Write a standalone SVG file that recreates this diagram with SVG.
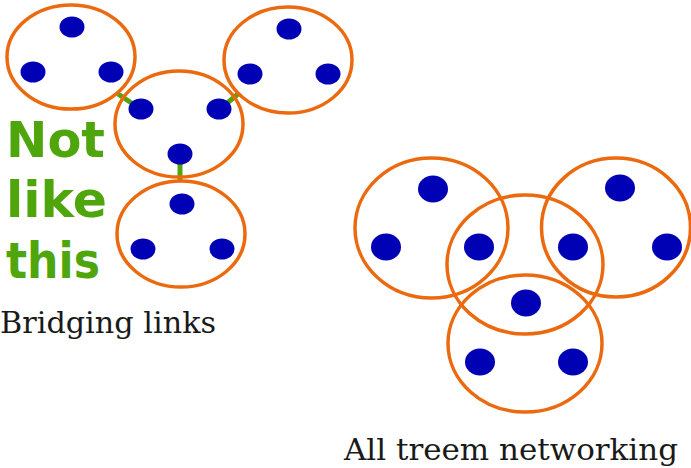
<svg xmlns="http://www.w3.org/2000/svg" width="691" height="468" viewBox="0 0 691 468">
<style>
.grp{fill:none;stroke:#ec6a0f;stroke-width:3.5}
.dot{fill:#0000b4}
.link{stroke:#4fa60c;stroke-width:5;stroke-linecap:butt}
.green{font-family:"DejaVu Sans",sans-serif;font-weight:bold;font-size:49px;fill:#4fa60c}
.lbl{font-family:"DejaVu Serif",serif;font-size:29px;fill:#1a1a1a}
</style>
<rect width="691" height="468" fill="#ffffff"/>
<g id="connectors">
<line class="link" x1="118" y1="94" x2="133" y2="104"/>
<line class="link" x1="226" y1="104" x2="238" y2="94"/>
<line class="link" x1="180" y1="164" x2="180" y2="182"/>
</g>
<g id="left-top">
<ellipse class="grp" cx="71" cy="57" rx="64" ry="52"/>
<ellipse class="dot" cx="72" cy="27" rx="12.5" ry="10.5"/>
<ellipse class="dot" cx="33" cy="72" rx="12.5" ry="10.5"/>
<ellipse class="dot" cx="111" cy="72" rx="12.5" ry="10.5"/>
</g>
<g id="left-center">
<ellipse class="grp" cx="179" cy="124" rx="64" ry="53"/>
<ellipse class="dot" cx="141" cy="109" rx="12.5" ry="10.5"/>
<ellipse class="dot" cx="219" cy="109" rx="12.5" ry="10.5"/>
<ellipse class="dot" cx="180" cy="154" rx="12.5" ry="10.5"/>
</g>
<g id="left-right">
<ellipse class="grp" cx="288" cy="60" rx="64" ry="53"/>
<ellipse class="dot" cx="289" cy="29" rx="12.5" ry="10.5"/>
<ellipse class="dot" cx="250" cy="74" rx="12.5" ry="10.5"/>
<ellipse class="dot" cx="328" cy="74" rx="12.5" ry="10.5"/>
</g>
<g id="left-bottom">
<ellipse class="grp" cx="181" cy="234" rx="64" ry="53"/>
<ellipse class="dot" cx="182" cy="204" rx="12.5" ry="10.5"/>
<ellipse class="dot" cx="143" cy="249" rx="12.5" ry="10.5"/>
<ellipse class="dot" cx="222" cy="249" rx="12.5" ry="10.5"/>
</g>
<g id="not-like-this">
<text class="green" x="6" y="157" textLength="99" lengthAdjust="spacingAndGlyphs">Not</text>
<text class="green" x="6" y="217" textLength="101" lengthAdjust="spacingAndGlyphs">like</text>
<text class="green" x="6" y="278" textLength="94" lengthAdjust="spacingAndGlyphs">this</text>
</g>
<g id="label-bridging">
<text class="lbl" x="0" y="333" textLength="216" lengthAdjust="spacingAndGlyphs">Bridging links</text>
</g>
<g id="right-left">
<ellipse class="grp" cx="431.5" cy="228" rx="76.5" ry="70"/>
<ellipse class="dot" cx="433" cy="189" rx="15" ry="13.5"/>
<ellipse class="dot" cx="386" cy="247" rx="15" ry="13.5"/>
<ellipse class="dot" cx="479" cy="247" rx="15" ry="13.5"/>
</g>
<g id="right-center">
<ellipse class="grp" cx="525" cy="264.5" rx="78" ry="69.5"/>
<ellipse class="dot" cx="526" cy="303" rx="15" ry="13.5"/>
</g>
<g id="right-right">
<ellipse class="grp" cx="616" cy="227.5" rx="74.5" ry="69.5"/>
<ellipse class="dot" cx="620" cy="188" rx="15" ry="13.5"/>
<ellipse class="dot" cx="573" cy="247" rx="15" ry="13.5"/>
<ellipse class="dot" cx="667" cy="247" rx="15" ry="13.5"/>
</g>
<g id="right-bottom">
<ellipse class="grp" cx="525" cy="343.5" rx="77" ry="68.5"/>
<ellipse class="dot" cx="480" cy="362" rx="15" ry="13.5"/>
<ellipse class="dot" cx="573" cy="362" rx="15" ry="13.5"/>
</g>
<g id="label-all">
<text class="lbl" x="344" y="460" textLength="334" lengthAdjust="spacingAndGlyphs">All treem networking</text>
</g>
</svg>
